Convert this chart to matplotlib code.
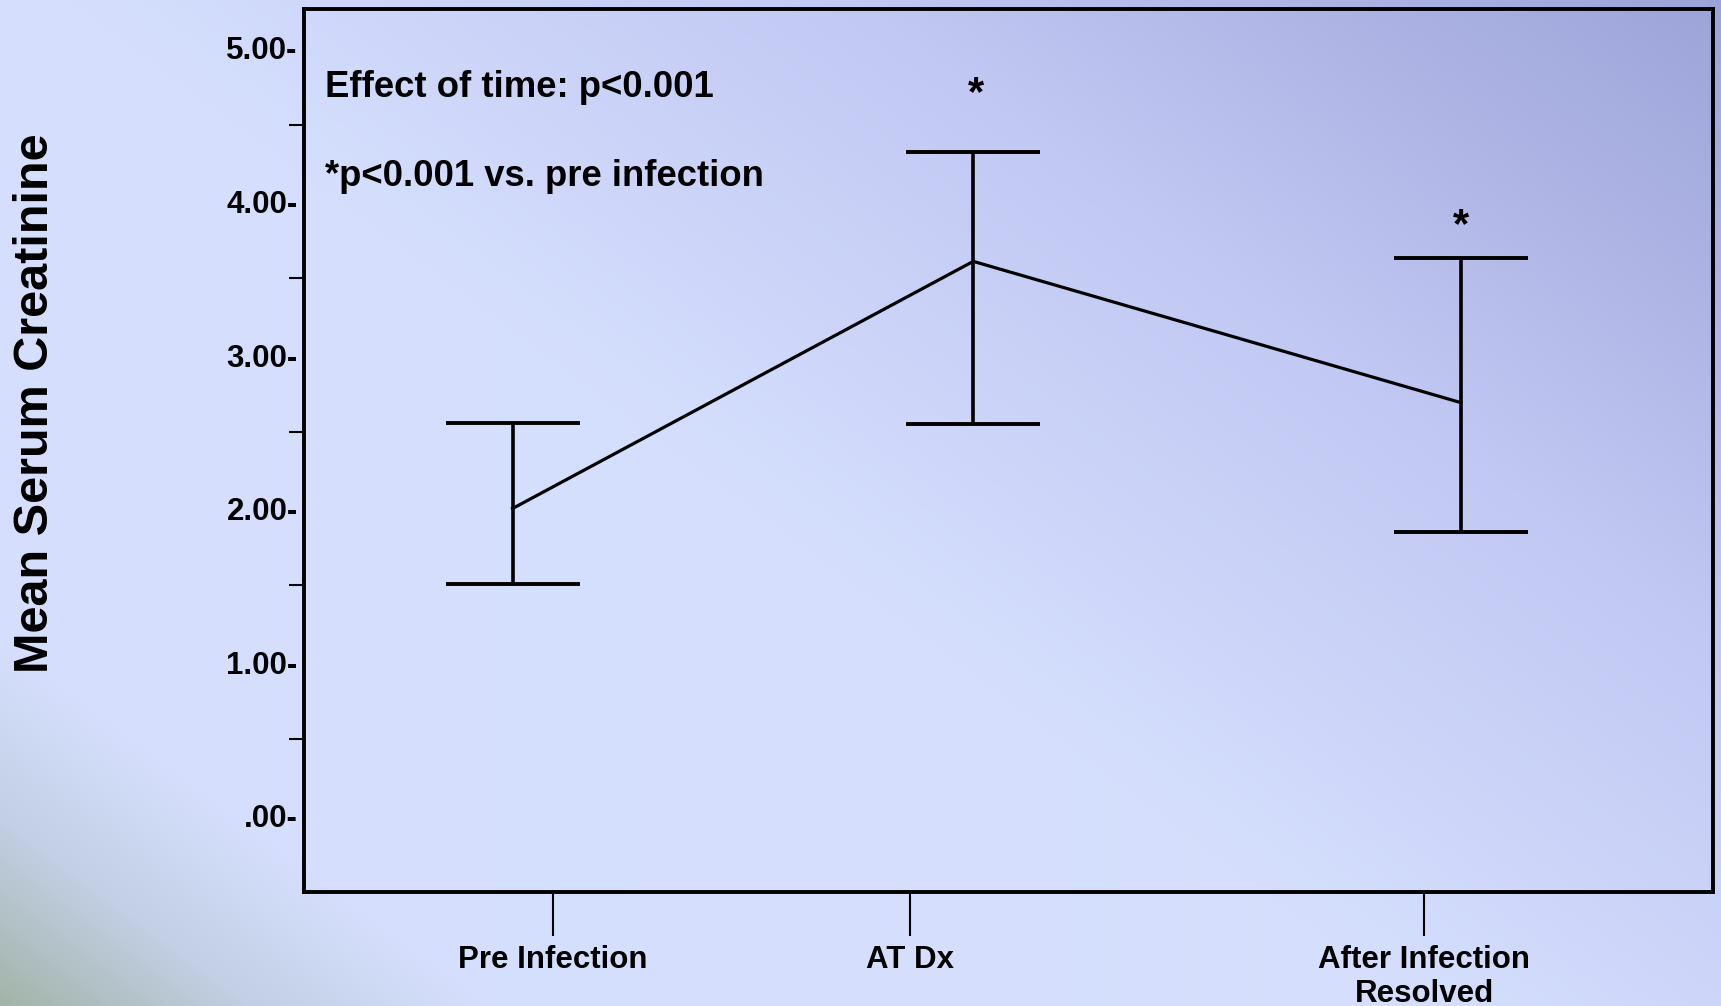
import numpy as np
import matplotlib
matplotlib.use("Agg")
import matplotlib.pyplot as plt

plt.rcParams['font.family'] = ['Liberation Sans', 'DejaVu Sans']
plt.rcParams['font.weight'] = 'bold'

# Data
categories = ["Pre Infection", "AT Dx", "After Infection\nResolved"]
means = [2.00, 3.61, 2.69]
lower = [1.51, 2.55, 1.85]
upper = [2.56, 4.32, 3.63]
y_ticks = [5, 4, 3, 2, 1, 0]
y_tick_labels = ["5.00-", "4.00-", "3.00-", "2.00-", "1.00-", ".00-"]
y_minor = [4.5, 3.5, 2.5, 1.5, 0.5]
notes = ["Effect of time: p<0.001", "*p<0.001 vs. pre infection"]

# Layout (the category ticks and the error bars sit at different x on the slide)
tick_x = [1.765, 4.30, 7.95]
bar_x = [1.48, 4.75, 8.21]
star_x = [4.77, 8.21]
star_y = [4.63, 3.77]

W, H = 1721, 1006
fig = plt.figure(figsize=(W / 100, H / 100), dpi=100)

# slide background: diagonal gradient, grey-green bottom-left -> light blue -> purple top-right
bg = fig.add_axes([0, 0, 1, 1], zorder=-10)
xs = np.arange(0, W, 2)
ys = np.arange(0, H, 2)
X, Y = np.meshgrid(xs, ys)
u = 0.598 * X + 0.802 * (H - Y)
stops = [0, 150, 290, 850, 1320, 1840]
r = [162, 194, 213, 213, 193, 156]
g = [180, 207, 223, 223, 200, 163]
b = [168, 228, 253, 253, 243, 216]
img = np.dstack([np.interp(u, stops, r), np.interp(u, stops, g), np.interp(u, stops, b)]) / 255
bg.imshow(img, extent=[0, 1, 0, 1], aspect='auto', interpolation='bilinear')
bg.axis('off')

ax = fig.add_axes([304 / W, 1 - 892 / H, (1713 - 304) / W, (892 - 9) / H])
ax.set_facecolor('none')

yerr = [np.array(means) - np.array(lower), np.array(upper) - np.array(means)]
ax.errorbar(bar_x, means, yerr=yerr, fmt='none', ecolor='black',
            elinewidth=2.6, capsize=48, capthick=2.8)
ax.plot(bar_x, means, color='black', linewidth=2.3)

for sx, sy in zip(star_x, star_y):
    ax.text(sx, sy, "*", fontsize=30, fontweight='bold', ha='center', va='baseline')

ax.text(0.149, 4.74, notes[0], fontsize=26.3, fontweight='bold', va='center', ha='left')
ax.text(0.149, 4.16, notes[1], fontsize=26.3, fontweight='bold', va='center', ha='left')

ax.set_xlim(0, 10)
ax.set_ylim(-0.498, 5.254)

ax.set_xticks(tick_x)
ax.set_xticklabels(categories, fontsize=22.5, fontweight='bold')
ax.tick_params(axis='x', length=32, width=1.5, direction='out', pad=6)

ax.set_yticks(y_ticks)
ax.set_yticklabels(y_tick_labels, fontsize=22.5, fontweight='bold')
ax.set_yticks(y_minor, minor=True)
ax.tick_params(axis='y', which='major', length=0, pad=4.5)
ax.tick_params(axis='y', which='minor', length=10.8, width=1.5, direction='out')

for sp in ax.spines.values():
    sp.set_linewidth(2.8)

fig.text(36 / W, 1 - 403 / H, "Mean Serum Creatinine", rotation=90,
         fontsize=35, fontweight='bold', ha='center', va='center')

fig.savefig("out.png", dpi=100)
